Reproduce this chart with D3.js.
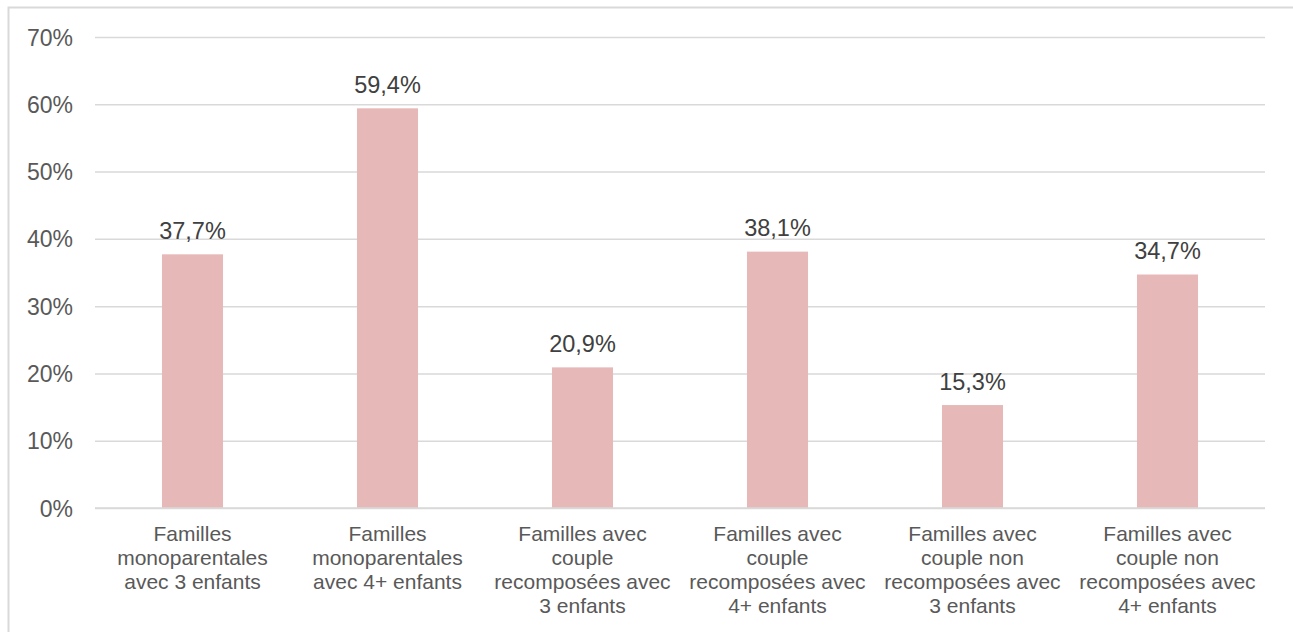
<!DOCTYPE html>
<html>
<head>
<meta charset="utf-8">
<script src="https://cdn.jsdelivr.net/npm/d3@7"></script>
<style>
  html, body { margin: 0; padding: 0; background: #fff; }
  svg { display: block; font-family: "Liberation Sans", Arial, sans-serif; }
</style>
</head>
<body>
<svg id="chart" width="1293" height="632"></svg>
<script>
const categories = [
  "Familles monoparentales avec 3 enfants",
  "Familles monoparentales avec 4+ enfants",
  "Familles avec couple recomposées avec 3 enfants",
  "Familles avec couple recomposées avec 4+ enfants",
  "Familles avec couple non recomposées avec 3 enfants",
  "Familles avec couple non recomposées avec 4+ enfants"
];
const categoryLines = [
  ["Familles", "monoparentales", "avec 3 enfants"],
  ["Familles", "monoparentales", "avec 4+ enfants"],
  ["Familles avec", "couple", "recomposées avec", "3 enfants"],
  ["Familles avec", "couple", "recomposées avec", "4+ enfants"],
  ["Familles avec", "couple non", "recomposées avec", "3 enfants"],
  ["Familles avec", "couple non", "recomposées avec", "4+ enfants"]
];
const values = [37.7, 59.4, 20.9, 38.1, 15.3, 34.7];
const yTicks = [0, 10, 20, 30, 40, 50, 60, 70];

const svg = d3.select("#chart");
const plotLeft = 95, plotRight = 1265, plotTop = 37, plotBottom = 508;

// outer border
svg.append("rect")
  .attr("x", 8.5).attr("y", 7.5)
  .attr("width", 1400).attr("height", 800)
  .attr("fill", "none").attr("stroke", "#d9d9d9").attr("stroke-width", 2);

const x = d3.scaleBand().domain(categories).range([plotLeft, plotRight]).paddingInner(0.687).paddingOuter(0.3435);
const y = d3.scaleLinear().domain([0, 70]).range([plotBottom, plotTop]);

// gridlines + tick labels
const yAxis = d3.axisLeft(y).tickValues(yTicks).tickSize(-(plotRight - plotLeft)).tickFormat(d => d + "%").tickPadding(22);
const gy = svg.append("g").attr("transform", `translate(${plotLeft},0)`).call(yAxis);
gy.select(".domain").remove();
gy.selectAll(".tick line").attr("stroke", "#d9d9d9").attr("stroke-width", 1.5);
gy.selectAll(".tick text")
  .attr("fill", "#595959").attr("font-size", "23px")
  .attr("font-family", "Liberation Sans, Arial, sans-serif")
  .attr("dy", "0.35em");

// bars
svg.append("g").selectAll("rect").data(values).join("rect")
  .attr("x", (d, i) => x(categories[i]))
  .attr("y", d => y(d))
  .attr("width", x.bandwidth())
  .attr("height", d => y(0) - y(d))
  .attr("fill", "#e6b8b7");

// baseline axis
svg.append("line")
  .attr("x1", plotLeft).attr("x2", plotRight)
  .attr("y1", y(0)).attr("y2", y(0))
  .attr("stroke", "#d9d9d9").attr("stroke-width", 1.5);

// data labels
svg.append("g").selectAll("text").data(values).join("text")
  .attr("x", (d, i) => x(categories[i]) + x.bandwidth() / 2)
  .attr("y", d => y(d) - 15.5)
  .attr("text-anchor", "middle")
  .attr("fill", "#404040")
  .attr("font-size", "23.5px")
  .text(d => d.toFixed(1).replace(".", ",") + "%");

// category labels
const cg = svg.append("g");
categories.forEach((c, i) => {
  const cx = x(c) + x.bandwidth() / 2;
  const t = cg.append("text")
    .attr("x", cx)
    .attr("y", 540.5)
    .attr("text-anchor", "middle")
    .attr("fill", "#595959")
    .attr("font-size", "21px");
  categoryLines[i].forEach((line, j) => {
    t.append("tspan")
      .attr("x", cx)
      .attr("dy", j === 0 ? 0 : 24)
      .text(line);
  });
});
</script>
</body>
</html>
